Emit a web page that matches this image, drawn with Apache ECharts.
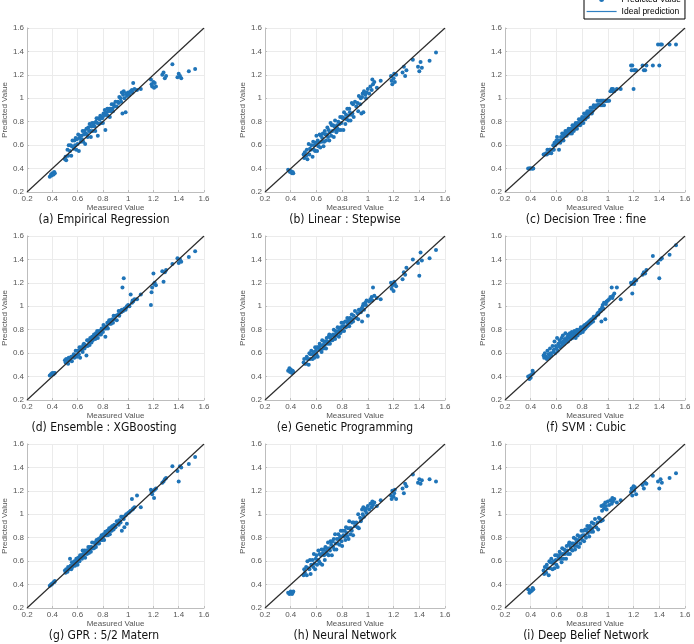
<!DOCTYPE html>
<html><head><meta charset="utf-8">
<script src="https://cdn.jsdelivr.net/npm/echarts@6/dist/echarts.min.js"></script>
<style>html,body{margin:0;padding:0;background:#fff}#c{width:694px;height:644px}</style>
</head><body><div id="c"></div>
<script>
// ---------- DATA ----------
const measured = [
  0.38,0.39,0.395,0.40,0.41,0.415,0.42,0.50,0.505,0.51,
  0.52,0.525,0.53,0.54,0.545,0.55,0.555,0.56,0.57,0.575,
  0.58,0.585,0.59,0.595,0.60,0.605,0.61,0.615,0.62,0.625,
  0.63,0.635,0.64,0.645,0.65,0.655,0.66,0.665,0.67,0.675,
  0.68,0.685,0.69,0.695,0.70,0.705,0.71,0.715,0.72,0.725,
  0.73,0.735,0.74,0.745,0.75,0.755,0.76,0.765,0.77,0.775,
  0.78,0.785,0.79,0.795,0.80,0.805,0.81,0.815,0.82,0.825,
  0.83,0.835,0.84,0.845,0.85,0.855,0.86,0.865,0.87,0.875,
  0.88,0.885,0.89,0.90,0.91,0.92,0.925,0.93,0.94,0.945,
  0.95,0.955,0.96,0.965,0.97,0.98,0.985,0.99,1.00,1.01,
  1.02,1.03,1.035,1.04,1.05,1.07,1.10,1.18,1.185,1.19,
  1.20,1.205,1.21,1.22,1.27,1.28,1.29,1.30,1.35,1.39,
  1.40,1.41,1.42,1.48,1.53
];
const predEmpirical = [
  0.33,0.35,0.34,0.36,0.35,0.37,0.36,0.48,0.50,0.47,
  0.56,0.51,0.60,0.55,0.60,0.51,0.59,0.64,0.57,0.64,
  0.60,0.66,0.56,0.65,0.61,0.69,0.55,0.66,0.68,0.63,
  0.68,0.65,0.72,0.63,0.69,0.72,0.61,0.70,0.74,0.69,
  0.67,0.75,0.72,0.78,0.72,0.67,0.76,0.79,0.72,0.77,
  0.79,0.76,0.72,0.80,0.83,0.79,0.68,0.83,0.78,0.82,
  0.85,0.79,0.84,0.83,0.79,0.87,0.85,0.90,0.73,0.88,
  0.86,0.91,0.85,0.89,0.91,0.84,0.91,0.89,0.95,0.91,
  0.89,0.95,0.93,0.97,0.93,0.97,0.96,1.01,1.00,0.97,
  1.05,0.87,1.03,1.06,1.00,0.88,1.04,1.02,1.05,1.03,
  1.06,1.07,1.05,1.13,1.08,1.07,1.08,1.16,1.12,1.10,
  1.14,1.09,1.13,1.10,1.20,1.22,1.17,1.19,1.29,1.18,
  1.21,1.19,1.17,1.23,1.25
];
const predStepwise = [
  0.39,0.38,0.37,0.38,0.36,0.37,0.36,0.52,0.49,0.54,
  0.51,0.56,0.48,0.61,0.52,0.57,0.56,0.60,0.50,0.63,
  0.56,0.60,0.55,0.62,0.68,0.55,0.64,0.59,0.62,0.69,
  0.58,0.68,0.63,0.66,0.70,0.59,0.63,0.72,0.69,0.64,
  0.69,0.75,0.67,0.73,0.64,0.71,0.79,0.68,0.77,0.72,
  0.77,0.67,0.76,0.81,0.73,0.71,0.77,0.74,0.80,0.73,
  0.78,0.84,0.73,0.79,0.84,0.83,0.73,0.88,0.83,0.78,
  0.86,0.82,0.91,0.85,0.81,0.91,0.88,0.81,0.86,0.96,
  0.87,0.95,0.84,0.97,0.93,0.96,0.89,1.02,0.95,1.00,
  0.87,1.01,1.04,0.88,1.06,1.03,1.00,1.05,1.08,1.04,
  1.10,1.07,1.16,1.12,1.14,1.09,1.15,1.19,1.15,1.12,
  1.17,1.21,1.14,1.20,1.22,1.27,1.19,1.24,1.33,1.27,
  1.23,1.31,1.26,1.32,1.39
];
const predTree = [
  0.40,0.40,0.40,0.40,0.40,0.40,0.40,0.52,0.52,0.52,
  0.53,0.52,0.56,0.53,0.56,0.56,0.56,0.53,0.56,0.60,
  0.56,0.62,0.60,0.62,0.64,0.67,0.62,0.64,0.56,0.64,
  0.62,0.67,0.64,0.70,0.67,0.64,0.70,0.68,0.72,0.70,
  0.68,0.72,0.70,0.74,0.72,0.70,0.74,0.72,0.70,0.77,
  0.74,0.72,0.77,0.74,0.79,0.77,0.74,0.79,0.77,0.82,
  0.79,0.77,0.82,0.79,0.84,0.82,0.79,0.87,0.84,0.82,
  0.87,0.84,0.89,0.84,0.87,0.89,0.87,0.92,0.89,0.87,
  0.89,0.92,0.94,0.92,0.94,0.98,0.94,0.95,0.98,0.94,
  0.98,0.94,0.98,0.98,0.94,0.98,0.98,0.98,0.98,0.98,
  1.06,1.08,1.06,1.08,1.06,1.08,1.08,1.28,1.24,1.28,
  1.08,1.24,1.24,1.24,1.28,1.24,1.24,1.28,1.28,1.46,
  1.28,1.46,1.46,1.46,1.46
];
const predXGBoost = [
  0.41,0.42,0.42,0.43,0.42,0.43,0.43,0.54,0.52,0.55,
  0.53,0.51,0.56,0.54,0.54,0.57,0.53,0.57,0.59,0.56,
  0.58,0.62,0.58,0.57,0.62,0.62,0.59,0.65,0.56,0.63,
  0.65,0.63,0.61,0.67,0.68,0.64,0.67,0.66,0.58,0.71,
  0.66,0.71,0.70,0.67,0.73,0.71,0.69,0.74,0.71,0.74,
  0.76,0.73,0.72,0.77,0.75,0.79,0.73,0.78,0.79,0.76,
  0.79,0.76,0.81,0.80,0.78,0.84,0.82,0.81,0.74,0.81,
  0.83,0.86,0.81,0.86,0.88,0.85,0.88,0.85,0.88,0.89,
  0.86,0.92,0.89,0.92,0.88,0.93,0.96,0.92,0.96,0.95,
  0.97,1.16,0.96,1.24,0.98,0.97,0.99,1.00,1.01,1.00,
  1.10,1.03,1.05,1.04,1.06,1.06,1.10,1.01,1.12,1.16,
  1.28,1.19,1.20,1.18,1.30,1.21,1.29,1.31,1.36,1.41,
  1.37,1.40,1.38,1.42,1.47
];
const predGenetic = [
  0.45,0.47,0.44,0.46,0.43,0.45,0.44,0.52,0.55,0.51,
  0.51,0.57,0.55,0.50,0.60,0.55,0.59,0.62,0.55,0.59,
  0.61,0.56,0.65,0.62,0.59,0.65,0.57,0.65,0.63,0.68,
  0.66,0.63,0.61,0.71,0.67,0.64,0.70,0.67,0.70,0.64,
  0.73,0.70,0.68,0.74,0.76,0.68,0.73,0.71,0.75,0.71,
  0.76,0.80,0.74,0.72,0.79,0.77,0.75,0.82,0.79,0.74,
  0.81,0.77,0.82,0.86,0.79,0.83,0.86,0.79,0.83,0.87,
  0.82,0.87,0.90,0.85,0.88,0.83,0.90,0.89,0.86,0.93,
  0.89,0.87,0.92,0.96,0.90,0.94,0.89,0.97,0.97,0.95,
  0.98,0.87,1.00,1.02,0.97,1.03,1.01,1.05,0.92,1.04,
  1.06,1.08,1.05,1.16,1.09,1.07,1.06,1.20,1.15,1.18,
  1.13,1.21,1.19,1.17,1.23,1.29,1.27,1.33,1.40,1.37,
  1.26,1.46,1.39,1.41,1.48
];
const predSVM = [
  0.40,0.38,0.41,0.39,0.42,0.45,0.43,0.58,0.56,0.60,
  0.57,0.55,0.62,0.59,0.56,0.64,0.60,0.58,0.66,0.61,
  0.63,0.70,0.60,0.66,0.64,0.73,0.62,0.68,0.66,0.71,
  0.65,0.69,0.73,0.67,0.75,0.70,0.68,0.72,0.77,0.70,
  0.72,0.74,0.70,0.76,0.73,0.77,0.72,0.75,0.78,0.73,
  0.77,0.74,0.79,0.76,0.73,0.78,0.80,0.75,0.79,0.77,
  0.80,0.77,0.82,0.79,0.81,0.78,0.83,0.80,0.84,0.81,
  0.82,0.85,0.83,0.86,0.84,0.87,0.85,0.88,0.86,0.89,
  0.89,0.87,0.91,0.90,0.92,0.94,0.93,0.95,0.97,0.96,
  0.87,0.99,1.01,0.98,1.03,0.89,1.02,1.04,1.05,1.06,
  1.08,1.16,1.07,1.09,1.11,1.16,1.06,1.20,1.19,1.11,
  1.21,1.19,1.23,1.22,1.27,1.29,1.28,1.31,1.43,1.37,
  1.24,1.40,1.41,1.44,1.52
];
const predGPR = [
  0.39,0.40,0.40,0.41,0.42,0.42,0.43,0.52,0.50,0.53,
  0.51,0.55,0.53,0.62,0.56,0.53,0.59,0.55,0.57,0.60,
  0.56,0.60,0.62,0.59,0.57,0.63,0.61,0.60,0.65,0.64,
  0.65,0.62,0.69,0.66,0.64,0.69,0.63,0.67,0.69,0.66,
  0.69,0.72,0.67,0.70,0.72,0.68,0.72,0.76,0.71,0.71,
  0.71,0.76,0.74,0.72,0.78,0.77,0.75,0.79,0.75,0.79,
  0.80,0.78,0.82,0.78,0.80,0.83,0.78,0.83,0.85,0.82,
  0.82,0.86,0.82,0.86,0.88,0.83,0.86,0.89,0.86,0.90,
  0.89,0.87,0.91,0.89,0.94,0.92,0.91,0.95,0.93,0.98,
  0.86,0.97,0.98,0.96,0.89,0.99,1.00,0.92,1.01,1.02,
  1.03,1.13,1.04,1.05,1.06,1.16,1.06,1.21,1.19,1.17,
  1.20,1.14,1.21,1.22,1.27,1.28,1.30,1.31,1.41,1.37,
  1.28,1.41,1.40,1.43,1.49
];
const predNeural = [
  0.33,0.32,0.33,0.34,0.32,0.33,0.34,0.48,0.53,0.50,
  0.55,0.48,0.60,0.54,0.53,0.61,0.49,0.57,0.61,0.55,
  0.66,0.58,0.53,0.62,0.65,0.57,0.61,0.69,0.60,0.66,
  0.58,0.65,0.70,0.57,0.67,0.70,0.65,0.61,0.72,0.68,
  0.71,0.66,0.76,0.65,0.71,0.69,0.77,0.74,0.65,0.77,
  0.72,0.79,0.70,0.83,0.75,0.70,0.79,0.75,0.83,0.79,
  0.74,0.81,0.86,0.77,0.73,0.86,0.82,0.81,0.86,0.78,
  0.89,0.84,0.81,0.88,0.79,0.94,0.88,0.83,0.88,0.86,
  0.93,0.82,0.93,0.90,0.93,0.89,1.00,0.88,0.97,0.94,
  0.96,1.04,1.00,1.06,0.98,1.03,1.05,1.01,1.07,1.04,
  1.09,1.06,1.11,1.08,1.10,1.07,1.12,1.16,1.13,1.20,
  1.15,1.18,1.21,1.13,1.22,1.18,1.26,1.24,1.34,1.27,
  1.30,1.26,1.29,1.30,1.28
];
const predDeepBelief = [
  0.36,0.33,0.35,0.34,0.35,0.37,0.36,0.52,0.49,0.55,
  0.50,0.57,0.54,0.48,0.60,0.54,0.59,0.62,0.53,0.58,
  0.60,0.54,0.65,0.61,0.57,0.65,0.55,0.64,0.62,0.68,
  0.66,0.62,0.59,0.71,0.66,0.62,0.70,0.66,0.69,0.62,
  0.73,0.69,0.66,0.74,0.76,0.66,0.72,0.70,0.75,0.69,
  0.75,0.80,0.73,0.70,0.79,0.76,0.73,0.82,0.78,0.72,
  0.81,0.75,0.81,0.86,0.78,0.82,0.86,0.77,0.82,0.87,
  0.80,0.86,0.90,0.84,0.88,0.81,0.90,0.88,0.85,0.93,
  0.88,0.85,0.92,0.96,0.89,0.93,0.87,0.97,0.96,0.94,
  1.07,1.03,0.95,1.08,1.05,1.10,1.07,1.04,1.11,1.08,
  1.12,1.09,1.14,1.11,1.13,1.10,1.12,1.19,1.22,1.16,
  1.24,1.20,1.23,1.17,1.25,1.22,1.27,1.26,1.33,1.28,
  1.22,1.30,1.27,1.31,1.35
];
const panelTitles = [
  '(a) Empirical Regression', '(b) Linear : Stepwise', '(c) Decision Tree : fine',
  '(d) Ensemble : XGBoosting', '(e) Genetic Programming', '(f) SVM : Cubic',
  '(g) GPR : 5/2 Matern', '(h) Neural Network', '(i) Deep Belief Network'
];
const panelPredictions = [
  predEmpirical, predStepwise, predTree,
  predXGBoost, predGenetic, predSVM,
  predGPR, predNeural, predDeepBelief
];
const axisRange = [0.2, 1.6];
const axisStep = 0.2;
const xAxisName = 'Measured Value';
const yAxisName = 'Predicted Value';
const seriesNames = ['Predicted Value', 'Ideal prediction'];

// ---------- LAYOUT ----------
const colLeft = [24, 265, 505];
const rowTop = [28, 236, 444];
const plotW = 180, plotH = 164;
const titleCx = [104, 345, 586];
const titleCy = [222, 430, 638];

const grid = [], xAxis = [], yAxis = [], series = [], title = [];
const tickFont = "'Liberation Sans', Arial, sans-serif";
panelPredictions.forEach((pred, i) => {
  const r = Math.floor(i / 3), c = i % 3;
  grid.push({left: colLeft[c], top: rowTop[r], width: plotW, height: plotH, containLabel: false});
  const common = {
    type: 'value', gridIndex: i, min: axisRange[0], max: axisRange[1], interval: axisStep,
    nameLocation: 'middle',
    nameTextStyle: {fontSize: 8, color: '#555', fontFamily: tickFont},
    axisLine: {show: true, onZero: false, lineStyle: {color: '#bdbdbd', width: 1}},
    axisTick: {show: true, inside: true, length: 2, lineStyle: {color: '#bdbdbd'}},
    axisLabel: {fontSize: 8, color: '#555', fontFamily: tickFont, margin: 3},
    splitLine: {show: true, lineStyle: {color: '#ebebeb', width: 1}}
  };
  xAxis.push(Object.assign({}, common, {name: xAxisName, nameGap: 12}));
  yAxis.push(Object.assign({}, common, {name: yAxisName, nameGap: 15}));
  series.push({
    name: seriesNames[0], type: 'scatter', xAxisIndex: i, yAxisIndex: i,
    symbol: 'circle', symbolSize: 4,
    itemStyle: {color: '#1f74b8', opacity: 1},
    data: measured.map((m, k) => [m, pred[k]]), z: 2, silent: true
  });
  series.push({
    name: seriesNames[1], type: 'line', xAxisIndex: i, yAxisIndex: i,
    symbol: 'none', lineStyle: {color: '#2b2b2b', width: 1.2},
    data: [[axisRange[0], axisRange[0]], [axisRange[1], axisRange[1]]], z: 3, silent: true
  });
  title.push({
    text: panelTitles[i], left: titleCx[c], top: titleCy[r] - 8, textAlign: 'center', padding: 0,
    textStyle: {fontSize: 12, fontWeight: 'normal', color: '#111',
      fontFamily: "'DejaVu Sans Condensed', Lato, sans-serif"}
  });
});

const chart = echarts.init(document.getElementById('c'), null, {renderer: 'canvas'});
chart.setOption({
  animation: false,
  backgroundColor: '#fff',
  title, grid, xAxis, yAxis, series,
  legend: {
    orient: 'vertical', left: 584, top: -7,
    backgroundColor: '#fff', borderColor: '#000', borderWidth: 1,
    padding: [2, 4, 3, 2], itemGap: 3, itemWidth: 30, itemHeight: 5,
    textStyle: {fontSize: 8.5, color: '#000', fontFamily: tickFont},
    data: [
      {name: seriesNames[0], icon: 'circle'},
      {name: seriesNames[1], lineStyle: {color: '#2f7fc1', width: 1.2},
       itemStyle: {color: 'rgba(0,0,0,0)', borderWidth: 0, opacity: 0}}
    ]
  }
});
</script></body></html>
